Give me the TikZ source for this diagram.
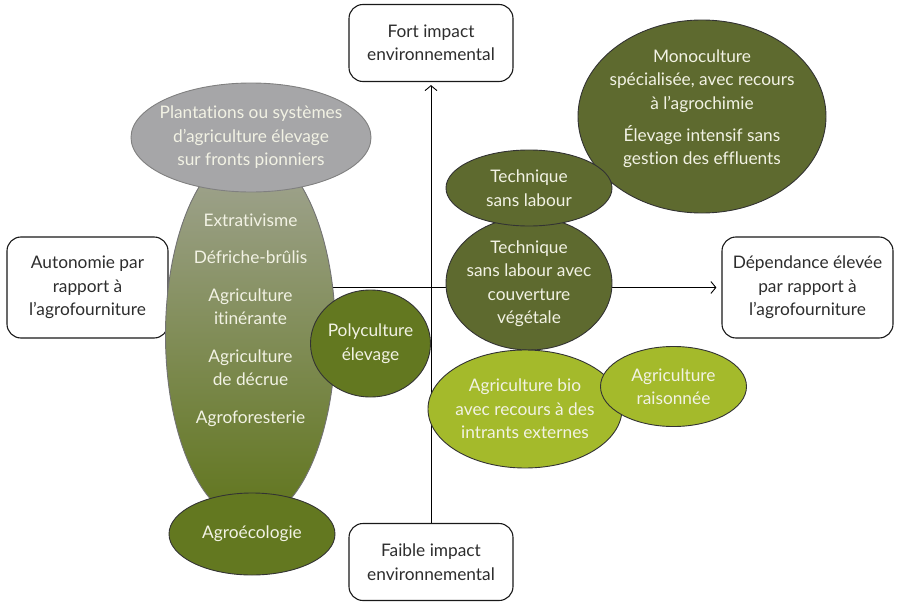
\documentclass[tikz,border=0pt]{standalone}
\usepackage{fontspec}
\setmainfont[Ligatures=NoCommon]{Lato}
\usetikzlibrary{arrows.meta,shapes}

\definecolor{boxtxt}{RGB}{45,45,45}
\definecolor{cream}{RGB}{242,242,228}
\definecolor{darkolive}{RGB}{94,106,47}
\definecolor{midolive}{RGB}{99,120,32}
\definecolor{limeolive}{RGB}{164,186,43}
\definecolor{pgrey}{RGB}{166,166,168}
\definecolor{gradtop}{RGB}{162,165,148}
\definecolor{gradbot}{RGB}{96,117,28}

\begin{document}
\begin{tikzpicture}[x=1pt, y=-1pt, font=\fontsize{17.3}{23.5}\selectfont,
  >={Straight Barb[length=5pt,width=12pt]},
  box/.style={draw=black!90, line width=1.1pt, rounded corners=14pt, fill=white,
    align=center, text=boxtxt, inner sep=0pt},
  blob/.style={ellipse, draw=black!80, line width=0.9pt, inner sep=0pt},
  sz/.style 2 args={minimum width=#1, minimum height=#2},
  txt/.style={align=center, text=cream}]

\useasboundingbox (0,0) rectangle (898,605);

\node[box, sz={164pt}{77pt}] (fort) at (431,43) {Fort impact\\environnemental};
\node[box, sz={164pt}{77pt}] (faible) at (431,562) {Faible impact\\environnemental};
\node[box, sz={161pt}{101pt}] (auto) at (87.5,287.5) {Autonomie par\\rapport à\\l’agrofourniture};
\node[box, sz={171pt}{101pt}] (dep) at (807.5,287.5) {Dépendance élevée\\par rapport à\\l’agrofourniture};

\draw[->, line width=0.9pt, shorten >=5pt] (auto) -- (dep);
\draw[->, line width=0.9pt, shorten >=3pt] (faible) -- (fort);

\node[blob, draw=black!55, top color=gradtop, bottom color=gradbot, sz={170pt}{372pt}] (pion) at (250.5,335) {};
\node[txt] (pion-txt) at (250.5,320) {Extrativisme\\[14pt]Défriche-brûlis\\[14pt]Agriculture\\itinérante\\[14pt]Agriculture\\de décrue\\[14pt]Agroforesterie};

\node[blob, draw=black!50, fill=pgrey, sz={240pt}{109pt}] (plant) at (251,137.5) {};
\node[txt] at (plant) {Plantations ou systèmes\\d’agriculture élevage\\sur fronts pionniers};

\node[blob, fill=midolive, sz={166pt}{82pt}] (agroeco) at (252,534) {};
\node[txt] at (agroeco) {Agroécologie};

\node[blob, fill=midolive, sz={120pt}{107pt}] (poly) at (370.5,343.5) {};
\node[txt] at (poly) {Polyculture\\élevage};

\node[blob, fill=darkolive, sz={248pt}{193pt}] (mono) at (702,116.5) {};
\node[txt] at (702,108.5) {Monoculture\\spécialisée, avec recours\\à l’agrochimie\\[8.5pt]Élevage intensif sans\\gestion des effluents};

\node[blob, fill=darkolive, sz={166pt}{133pt}] (tslc) at (529,283.5) {};
\node[txt] at (tslc) {Technique\\sans labour avec\\couverture\\végétale};

\node[blob, fill=darkolive, sz={166pt}{76pt}] (tsl) at (529,188) {};
\node[txt] at (tsl) {Technique\\sans labour};

\node[blob, fill=limeolive, sz={194pt}{118pt}] (bio) at (525,409) {};
\node[txt] at (bio) {Agriculture bio\\avec recours à des\\intrants externes};

\node[blob, fill=limeolive, sz={146pt}{80pt}] (rais) at (673.5,386.5) {};
\node[txt] at (rais) {Agriculture\\raisonnée};

\end{tikzpicture}
\end{document}
